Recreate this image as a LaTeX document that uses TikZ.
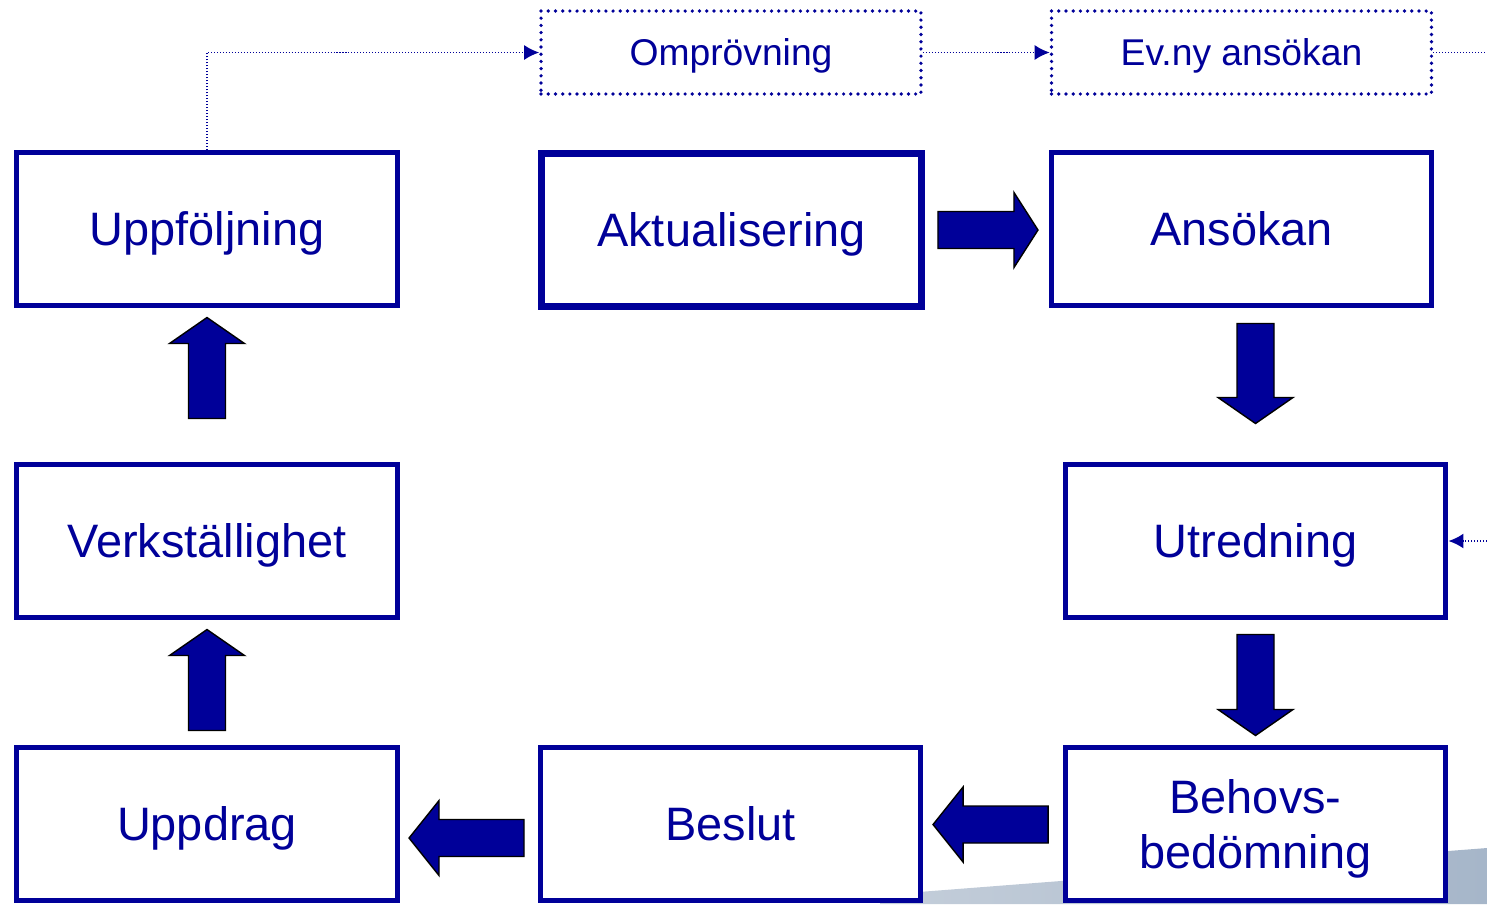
\documentclass[tikz,border=0pt]{standalone}
\usepackage{fontspec}
\setmainfont{Liberation Sans}
\usetikzlibrary{positioning,calc,arrows.meta}
\definecolor{darkblue}{HTML}{000099}
\definecolor{swooshlight}{HTML}{C4CEDA}
\definecolor{swooshdark}{HTML}{A6B6C9}
\newcommand{\capstrut}{\rule[-0.21em]{0pt}{1.14em}}

\begin{document}
\begin{tikzpicture}[x=0.02cm,y=-0.02cm,
  stepbox/.style={draw=darkblue,line width=2.85pt,fill=white,minimum width=7.62cm,
    minimum height=3.06cm,inner sep=0pt,align=center,text=darkblue,
    font=\fontsize{26.7}{31.3}\selectfont,
    execute at begin node=\capstrut,execute at end node=\capstrut},
  dotbox/.style={draw=darkblue,line width=2.1pt,line cap=round,dash pattern=on 0pt off 4.1pt,
    minimum width=7.6cm,minimum height=1.66cm,inner sep=0pt,text=darkblue,
    font=\fontsize{21.2}{25}\selectfont,execute at begin node=\capstrut},
  dotline/.style={darkblue,line width=1pt,dash pattern=on 0.6pt off 1.1pt,
    -{Latex[length=0.3cm,width=0.3cm]}},
  arrowfill/.style={draw=black,line width=0.8pt,fill=darkblue,line join=miter},
  pics/blockarr/.style n args={2}{code={
    \draw[arrowfill] (0,-18.5) -- ({#1-#2},-18.5) -- ({#1-#2},-37.5) -- (#1,0)
      -- ({#1-#2},37.5) -- ({#1-#2},18.5) -- (0,18.5) -- cycle;
  }}]
  \useasboundingbox (0,0) rectangle (1487,904);

  % Grey swoosh in the corner
  \shade[left color=swooshlight,right color=swooshdark]
    (880,895) -- (1487,848) -- (1487,904) -- (880,904) -- cycle;

  % Top row
  \node[stepbox] (upp) at (207,229) {Uppföljning};
  \node[stepbox,line width=4pt,minimum width=7.6cm] (akt) at (731.5,230) {Aktualisering};
  \node[stepbox] (ans) at (1241.5,229) {Ansökan};

  % Middle row
  \node[stepbox] (ver) at (207,541) {Verkställighet};
  \node[stepbox] (utr) at (1255.5,541) {Utredning};

  % Bottom row
  \node[stepbox] (upd) at (207,824) {Uppdrag};
  \node[stepbox] (bes) at (730.5,824) {Beslut};
  \node[stepbox] (beh) at (1255.5,824) {\capstrut Behovs-\\bedömning};

  % Dotted boxes
  \node[dotbox] (omp) at (731,52.5) {Omprövning};
  \node[dotbox] (evny) at (1241.5,52.5) {Ev.ny ansökan};
  \coordinate (outtop) at (1490,52.5);
  \coordinate (outmid) at (1490,541);

  % Dotted connectors
  \draw[dotline] (upp.north) |- (omp.west);
  \draw[dotline] (omp.east) -- (evny.west);
  \draw[dotline,-] (evny.east) -- (outtop);
  \draw[dotline] (outmid) -- (utr.east);

  % Block arrows
  \pic at ($(akt.east)+(13,0)$) {blockarr={100}{24}};
  \pic[rotate=-90] at ($(ans.south -| utr.north)+(0,15.5)$) {blockarr={100}{26}};
  \pic[rotate=-90] at ($(utr.south)+(0,14.5)$) {blockarr={101}{26}};
  \pic[rotate=180] at ($(beh.west)+(-14.5,0.5)$) {blockarr={115}{30}};
  \pic[rotate=180] at ($(bes.west)+(-13.5,14)$) {blockarr={115}{30}};
  \pic[rotate=90] at ($(upd.north)+(0,-14.5)$) {blockarr={101}{26}};
  \pic[rotate=90] at ($(ver.north)+(0,-43.5)$) {blockarr={101}{26}};
\end{tikzpicture}
\end{document}
